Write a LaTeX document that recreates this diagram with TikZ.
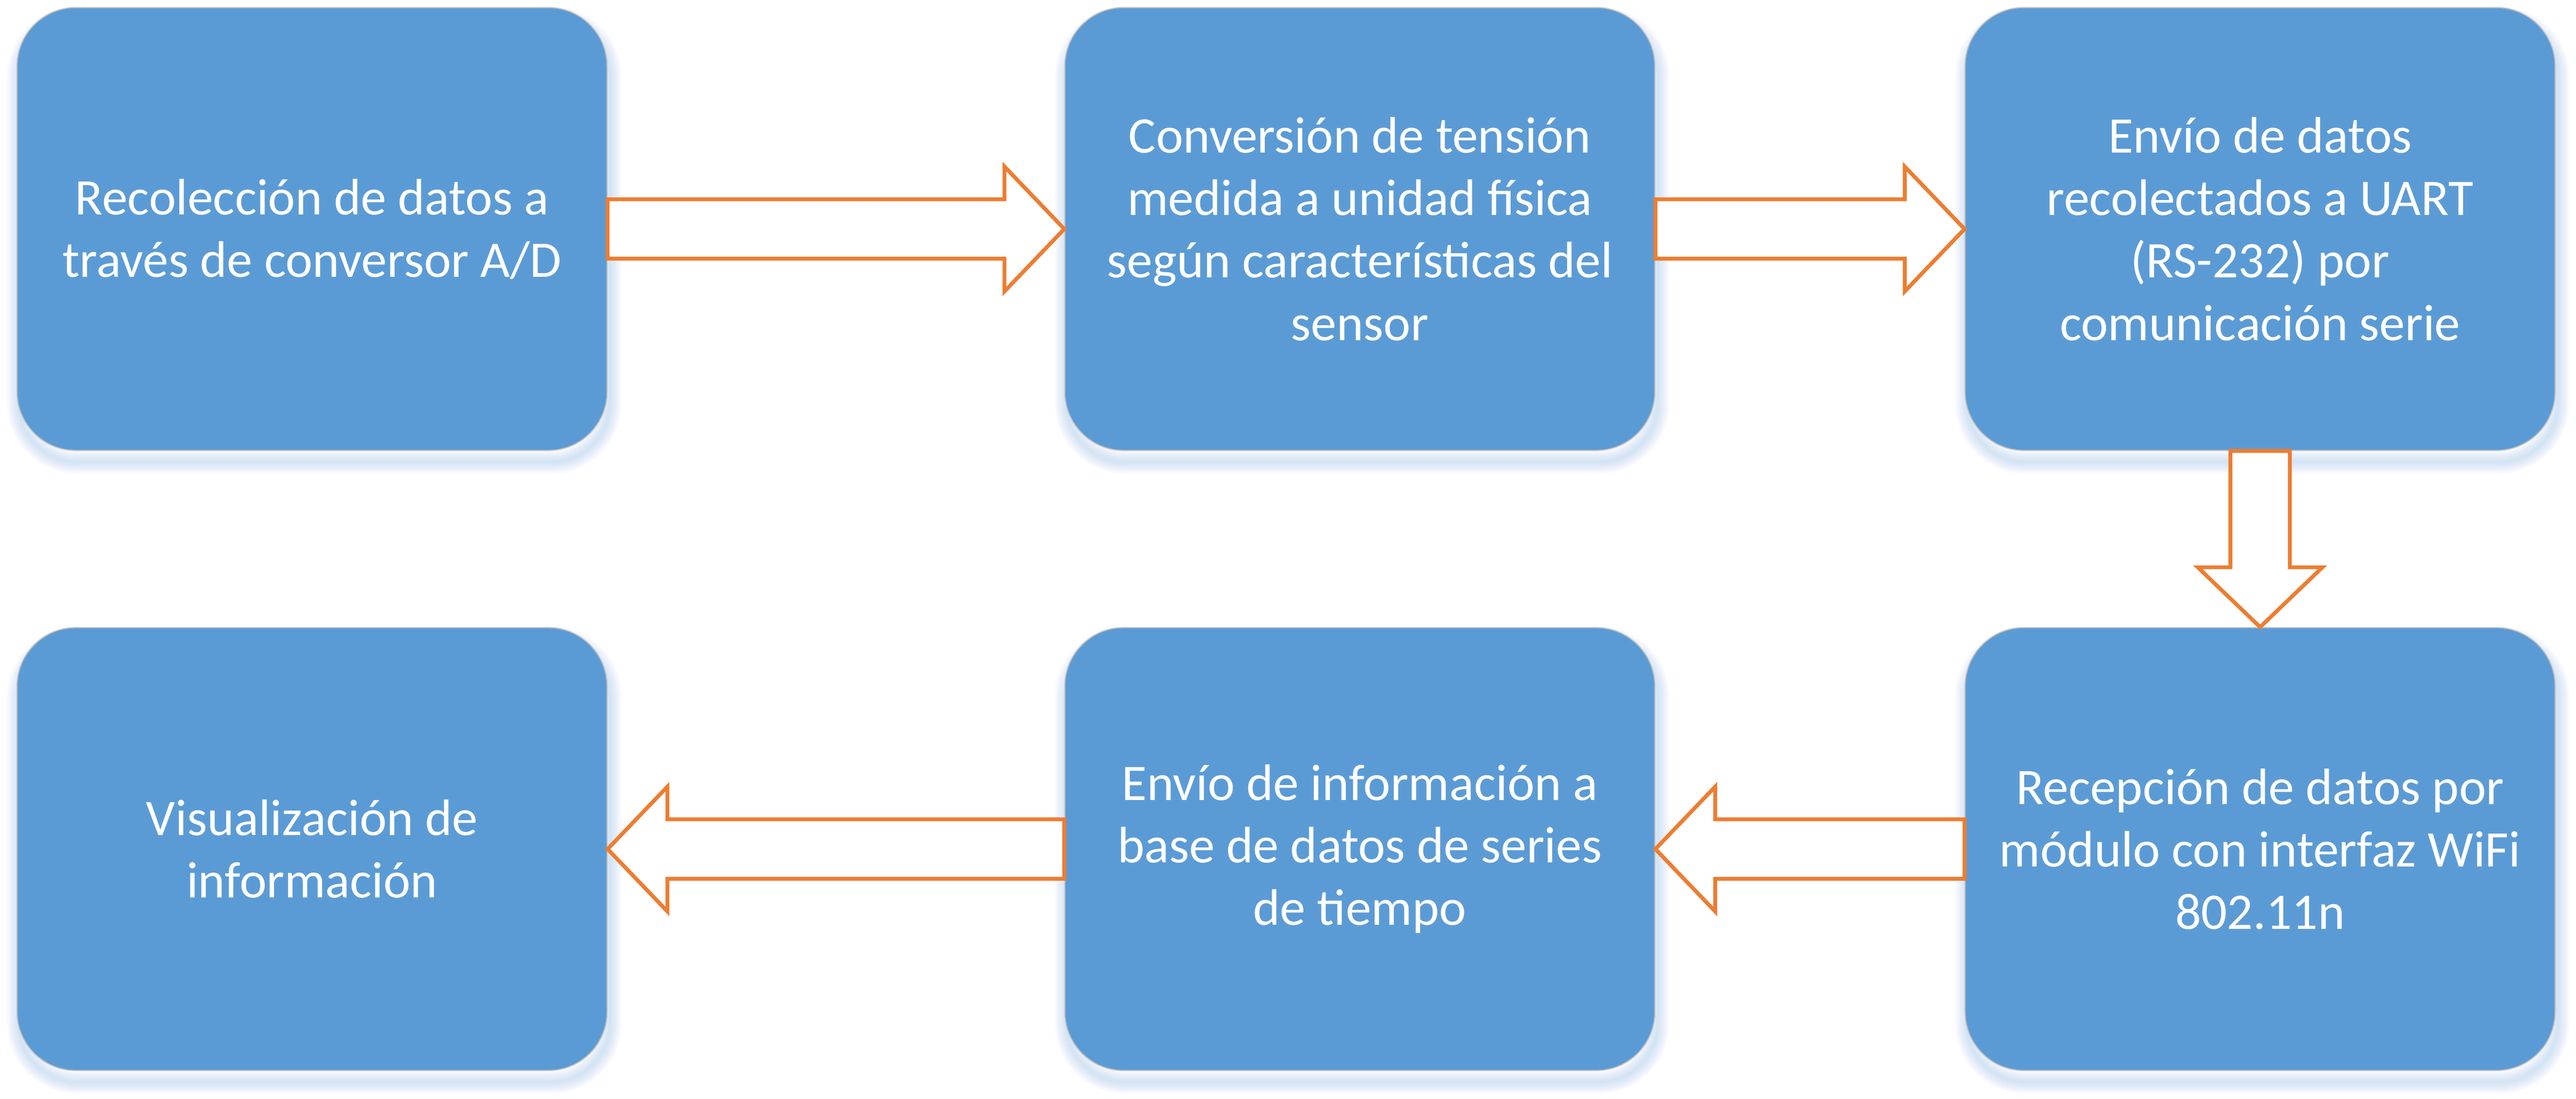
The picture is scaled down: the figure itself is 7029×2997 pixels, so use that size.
\documentclass[tikz,border=0pt]{standalone}
\usepackage{fontspec}
\setmainfont{Carlito}
\usepackage{tikz}
\usetikzlibrary{calc,backgrounds}
\definecolor{azul}{HTML}{5B9BD5}
\definecolor{naranja}{HTML}{ED7D31}
\definecolor{bordegris}{HTML}{BFBFBF}

\newcommand{\flecha}[2]{%
	\path ($(#2)!1.63cm!(#1)$) coordinate (base);
	\draw[flecha] ($(#1)!0.81cm!90:(#2)$) -- ($(base)!0.81cm!90:(#2)$)
	-- ($(base)!1.70cm!90:(#2)$) -- (#2) -- ($(base)!1.70cm!-90:(#2)$)
	-- ($(base)!0.81cm!-90:(#2)$) -- ($(#1)!0.81cm!-90:(#2)$) -- cycle;
}

\begin{document}
\begin{tikzpicture}[x=0.01cm, y=-0.01cm]
	\tikzset{
		caja/.style = {rectangle, rounded corners=1.6cm, draw=bordegris, line width=0.03cm,
			fill=azul, text=white, minimum width=16.09cm, minimum height=12.07cm,
			inner sep=0pt, align=center, font=\fontsize{39.8}{48.4}\selectfont},
		flecha/.style = {draw=naranja, fill=white, line width=0.105cm, line join=miter},
		sombra/.style = {draw=azul, draw opacity=0.022, rounded corners=1.6cm}
	}
	\useasboundingbox (0,0) rectangle (7029,2997);
	% fila superior
	\node[caja] (c1) at (851.5,624.5) {Recolección de datos a\\través de conversor A/D};
	\node[caja] (c2) at (3710.5,624.5) {Conversión de tensión\\medida a unidad física\\según características del\\sensor};
	\node[caja] (c3) at (6167,624.5) {Envío de datos\\recolectados a UART\\(RS-232) por\\comunicación serie};
	% fila inferior
	\node[caja] (c6) at (6167,2315.5) {Recepción de datos por\\módulo con interfaz WiFi\\802.11n};
	\node[caja] (c5) at (3710.5,2315.5) {Envío de información a\\base de datos de series\\de tiempo};
	\node[caja] (c4) at (851.5,2315.5) {Visualización de\\información};
	% sombras
	\begin{scope}[on background layer]
		\fill[white] (0,0) rectangle (7029,2997);
		\foreach \c in {c1,c2,c3,c4,c5,c6}
		\foreach \e in {0.03,0.06,...,0.33}
		\draw[sombra, line width=2*\e cm]
		($(\c.north west)+(0.06cm,-0.30cm)$) rectangle ($(\c.south east)+(0.06cm,-0.30cm)$);
	\end{scope}
	\flecha{c1.east}{c2.west}
	\flecha{c2.east}{c3.west}
	\flecha{c3.south}{c6.north}
	\flecha{c6.west}{c5.east}
	\flecha{c5.west}{c4.east}
\end{tikzpicture}
\end{document}
